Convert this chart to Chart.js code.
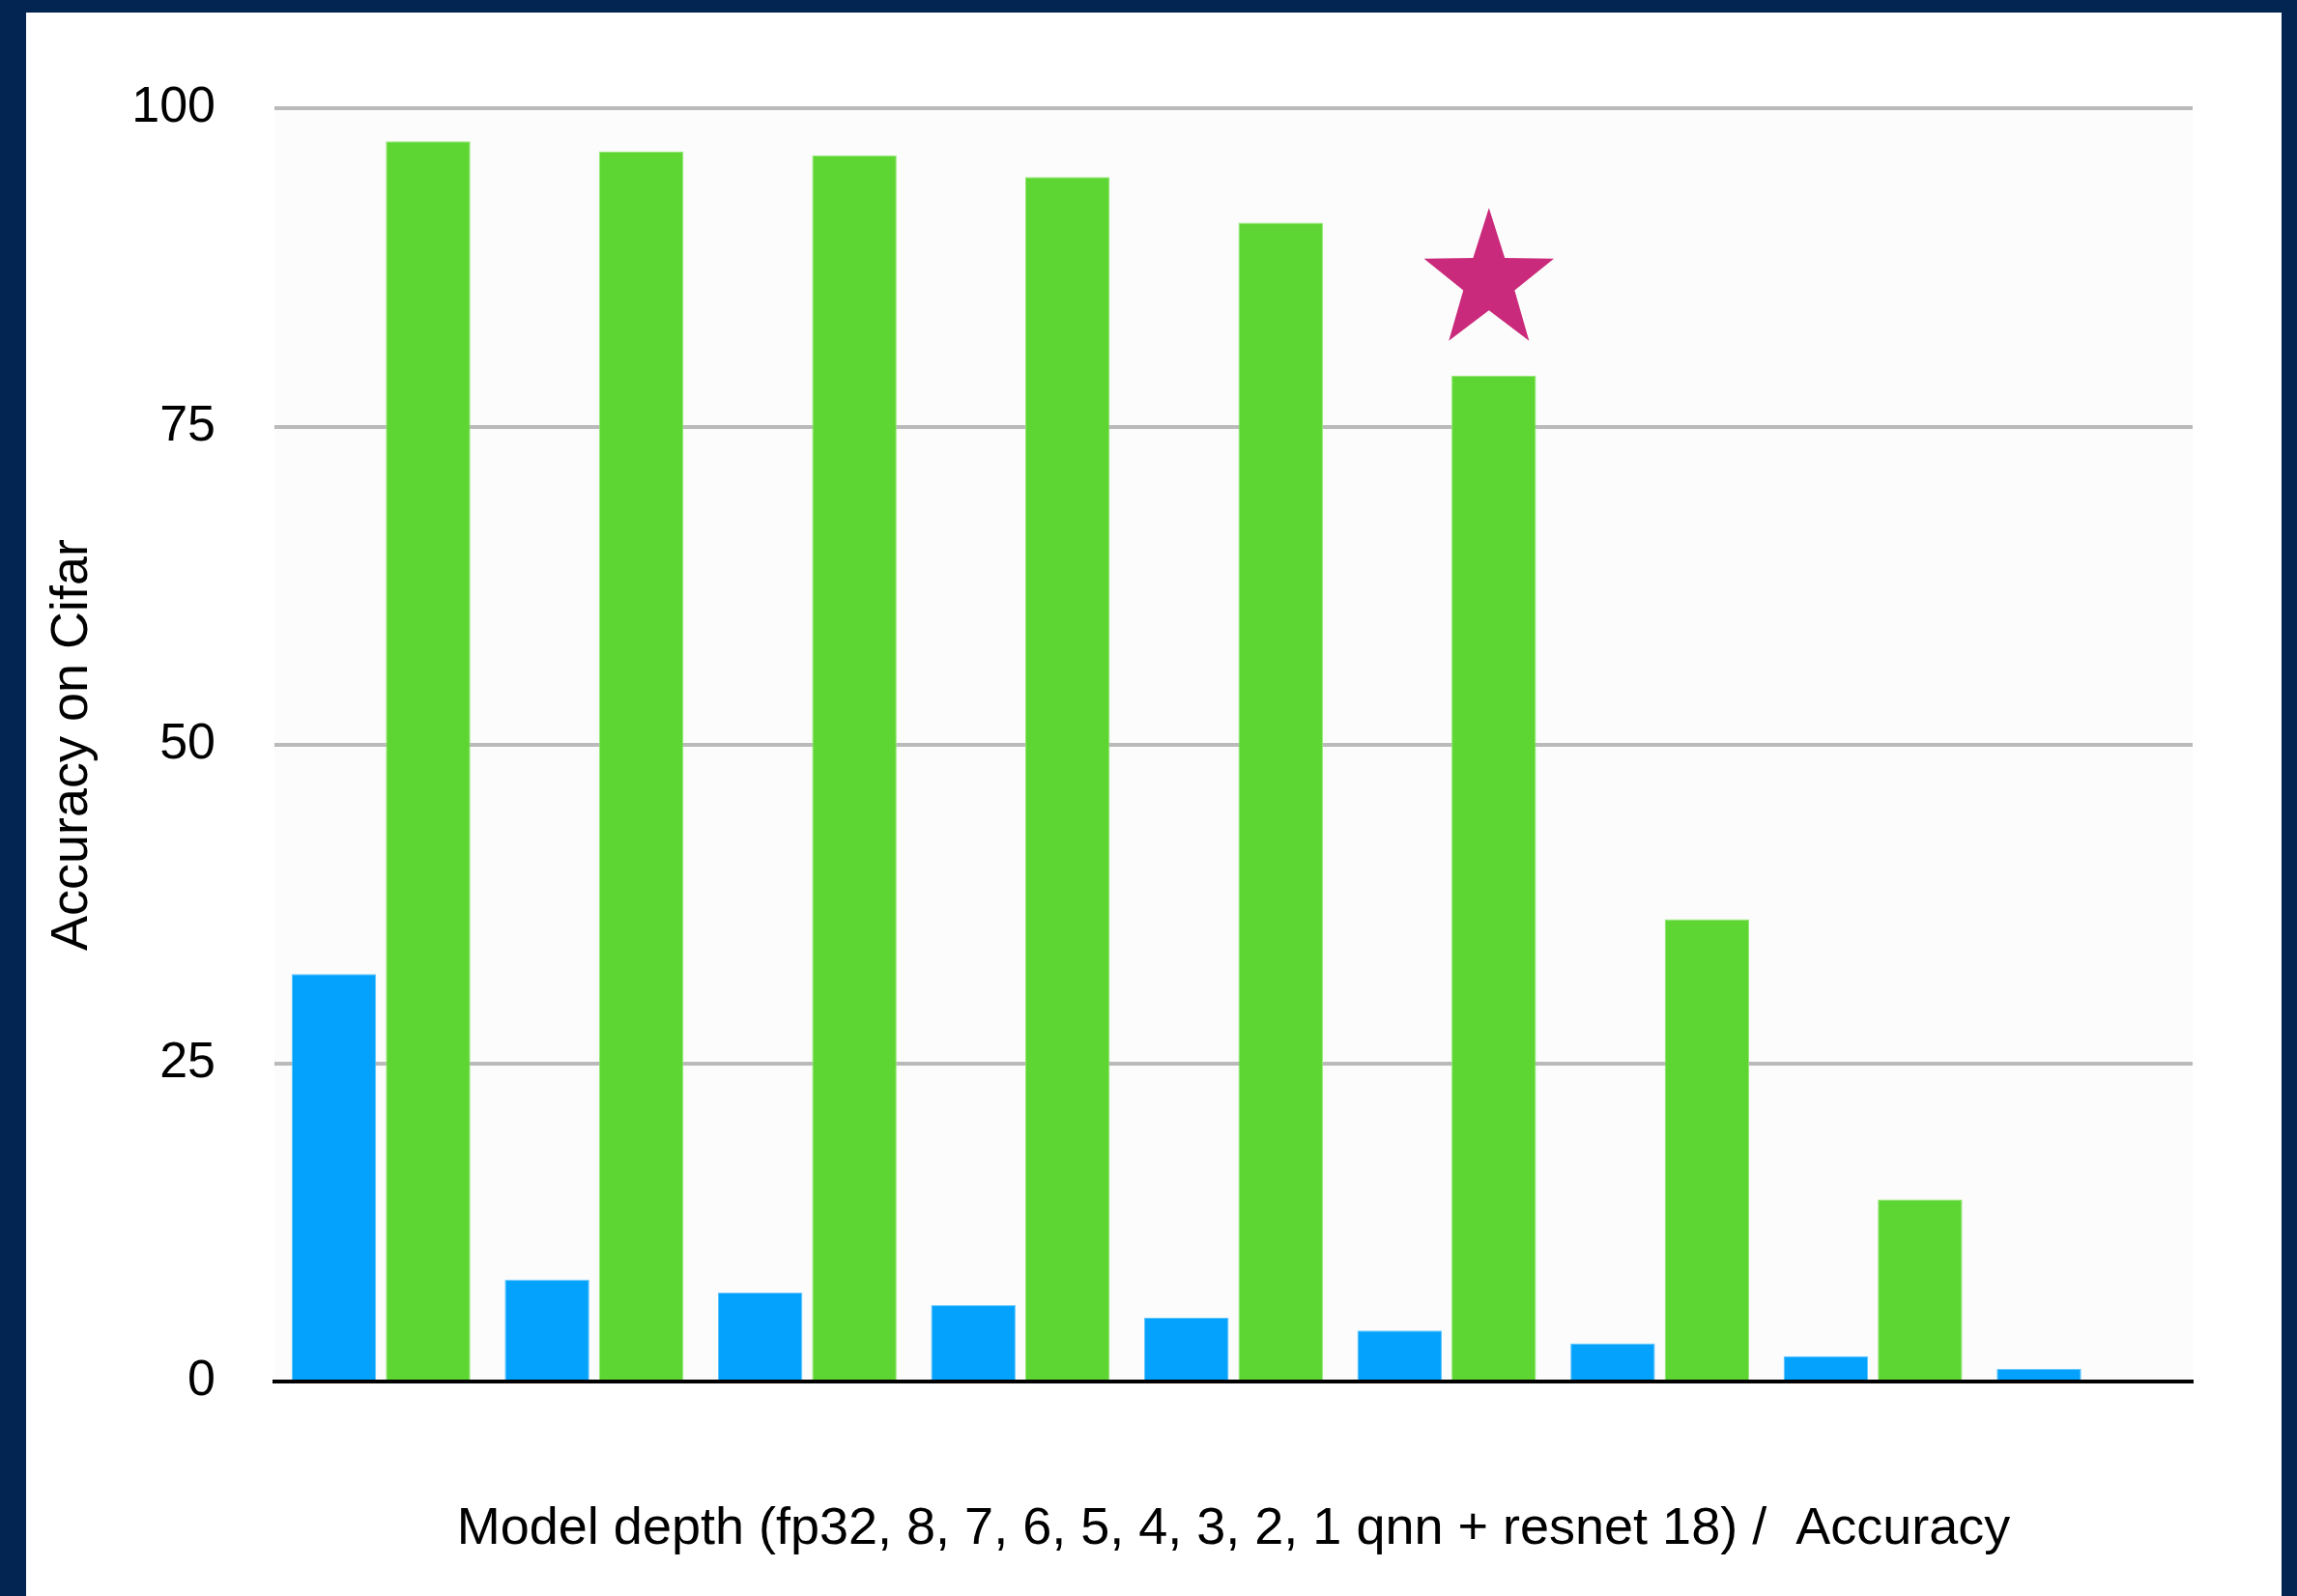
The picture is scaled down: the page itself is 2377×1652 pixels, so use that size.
<!DOCTYPE html>
<html>
<head>
<meta charset="utf-8">
<title>Accuracy on Cifar</title>
<script src="https://cdn.jsdelivr.net/npm/chart.js@4/dist/chart.umd.min.js"></script>
<style>
  html, body { margin: 0; padding: 0; background: #022551; width: 2377px; height: 1652px; overflow: hidden; }
  #panel { position: absolute; left: 27px; top: 13px; width: 2334px; height: 1639px; background: #ffffff; }
  #wrap { position: absolute; left: 0; top: 0; width: 2377px; height: 1652px; }
</style>
</head>
<body>
<div id="panel"></div>
<div id="wrap"><canvas id="chart"></canvas></div>
<script>
// Model variants: full precision, then 8..1 bit quantised networks
const categories = ['fp32', '8', '7', '6', '5', '4', '3', '2', '1'];
const qnnAccuracy = [32, 8, 7, 6, 5, 4, 3, 2, 1];
const resnetAccuracy = [97.4, 96.6, 96.3, 94.6, 91.0, 79.0, 36.3, 14.3, null];
const yTicks = [0, 25, 50, 75, 100];
const starCategory = '4';
const starValue = 86.4;

const FONT = '"Liberation Sans", Arial, Helvetica, sans-serif';

// light background behind the plot region
const plotBackground = {
  id: 'plotBackground',
  beforeDraw(chart) {
    const { ctx, chartArea: a } = chart;
    ctx.save();
    ctx.fillStyle = '#fcfcfc';
    ctx.fillRect(a.left, a.top, a.right - a.left, a.bottom - a.top);
    ctx.restore();
  }
};

// five-pointed star above the highlighted resnet bar
const starMarker = {
  id: 'starMarker',
  afterDatasetsDraw(chart) {
    const idx = categories.indexOf(starCategory);
    const bar = chart.getDatasetMeta(1).data[idx];
    if (!bar) return;
    const cx = bar.x - 5;
    const cy = chart.scales.y.getPixelForValue(starValue);
    const rOuter = 76, rInner = 30, sx = 0.93;
    const { ctx } = chart;
    ctx.save();
    ctx.beginPath();
    for (let i = 0; i < 10; i++) {
      const r = i % 2 === 0 ? rOuter : rInner;
      const ang = -Math.PI / 2 + i * Math.PI / 5;
      const px = cx + Math.cos(ang) * r * sx;
      const py = cy + Math.sin(ang) * r;
      if (i === 0) ctx.moveTo(px, py); else ctx.lineTo(px, py);
    }
    ctx.closePath();
    ctx.fillStyle = '#ca2a7b';
    ctx.fill();
    ctx.restore();
  }
};

new Chart(document.getElementById('chart'), {
  type: 'bar',
  data: {
    labels: categories,
    datasets: [
      {
        label: 'qnn',
        data: qnnAccuracy,
        backgroundColor: '#04a2fd',
        borderColor: '#5cc5ff',
        borderWidth: 1,
        barPercentage: 0.897,
        categoryPercentage: 0.884
      },
      {
        label: 'resnet 18',
        data: resnetAccuracy,
        backgroundColor: '#5dd633',
        borderColor: '#93e872',
        borderWidth: 1,
        barPercentage: 0.897,
        categoryPercentage: 0.884
      }
    ]
  },
  options: {
    responsive: true,
    maintainAspectRatio: false,
    animation: false,
    devicePixelRatio: 1,
    layout: { padding: { left: 0, top: 112, right: 108, bottom: 0 } },
    plugins: {
      legend: { display: false },
      tooltip: { enabled: false },
      title: { display: false }
    },
    scales: {
      x: {
        afterFit(scale) { scale.height = 222; },
        grid: { display: false, drawTicks: false },
        border: { display: true, color: '#000000', width: 4 },
        ticks: { display: false },
        title: {
          display: true,
          text: 'Model depth (fp32, 8, 7, 6, 5, 4, 3, 2, 1 qnn + resnet 18) /  Accuracy',
          color: '#000000',
          font: { family: FONT, size: 54, lineHeight: 1.2 },
          padding: { top: 0, bottom: 36 }
        }
      },
      y: {
        min: 0,
        max: 100,
        afterFit(scale) { scale.width = 284; },
        afterBuildTicks(scale) { scale.ticks = yTicks.map(v => ({ value: v })); },
        grid: {
          drawTicks: false,
          lineWidth: 4,
          color: (c) => (c.tick && c.tick.value === 0 ? 'rgba(0,0,0,0)' : '#bababa')
        },
        border: { display: false },
        ticks: {
          padding: 61,
          color: '#000000',
          font: { family: FONT, size: 52 }
        },
        title: {
          display: true,
          text: 'Accuracy on Cifar',
          color: '#000000',
          font: { family: FONT, size: 54, lineHeight: 1.2 },
          padding: { top: 43, bottom: 0 }
        }
      }
    }
  },
  plugins: [plotBackground, starMarker]
});
</script>
</body>
</html>
